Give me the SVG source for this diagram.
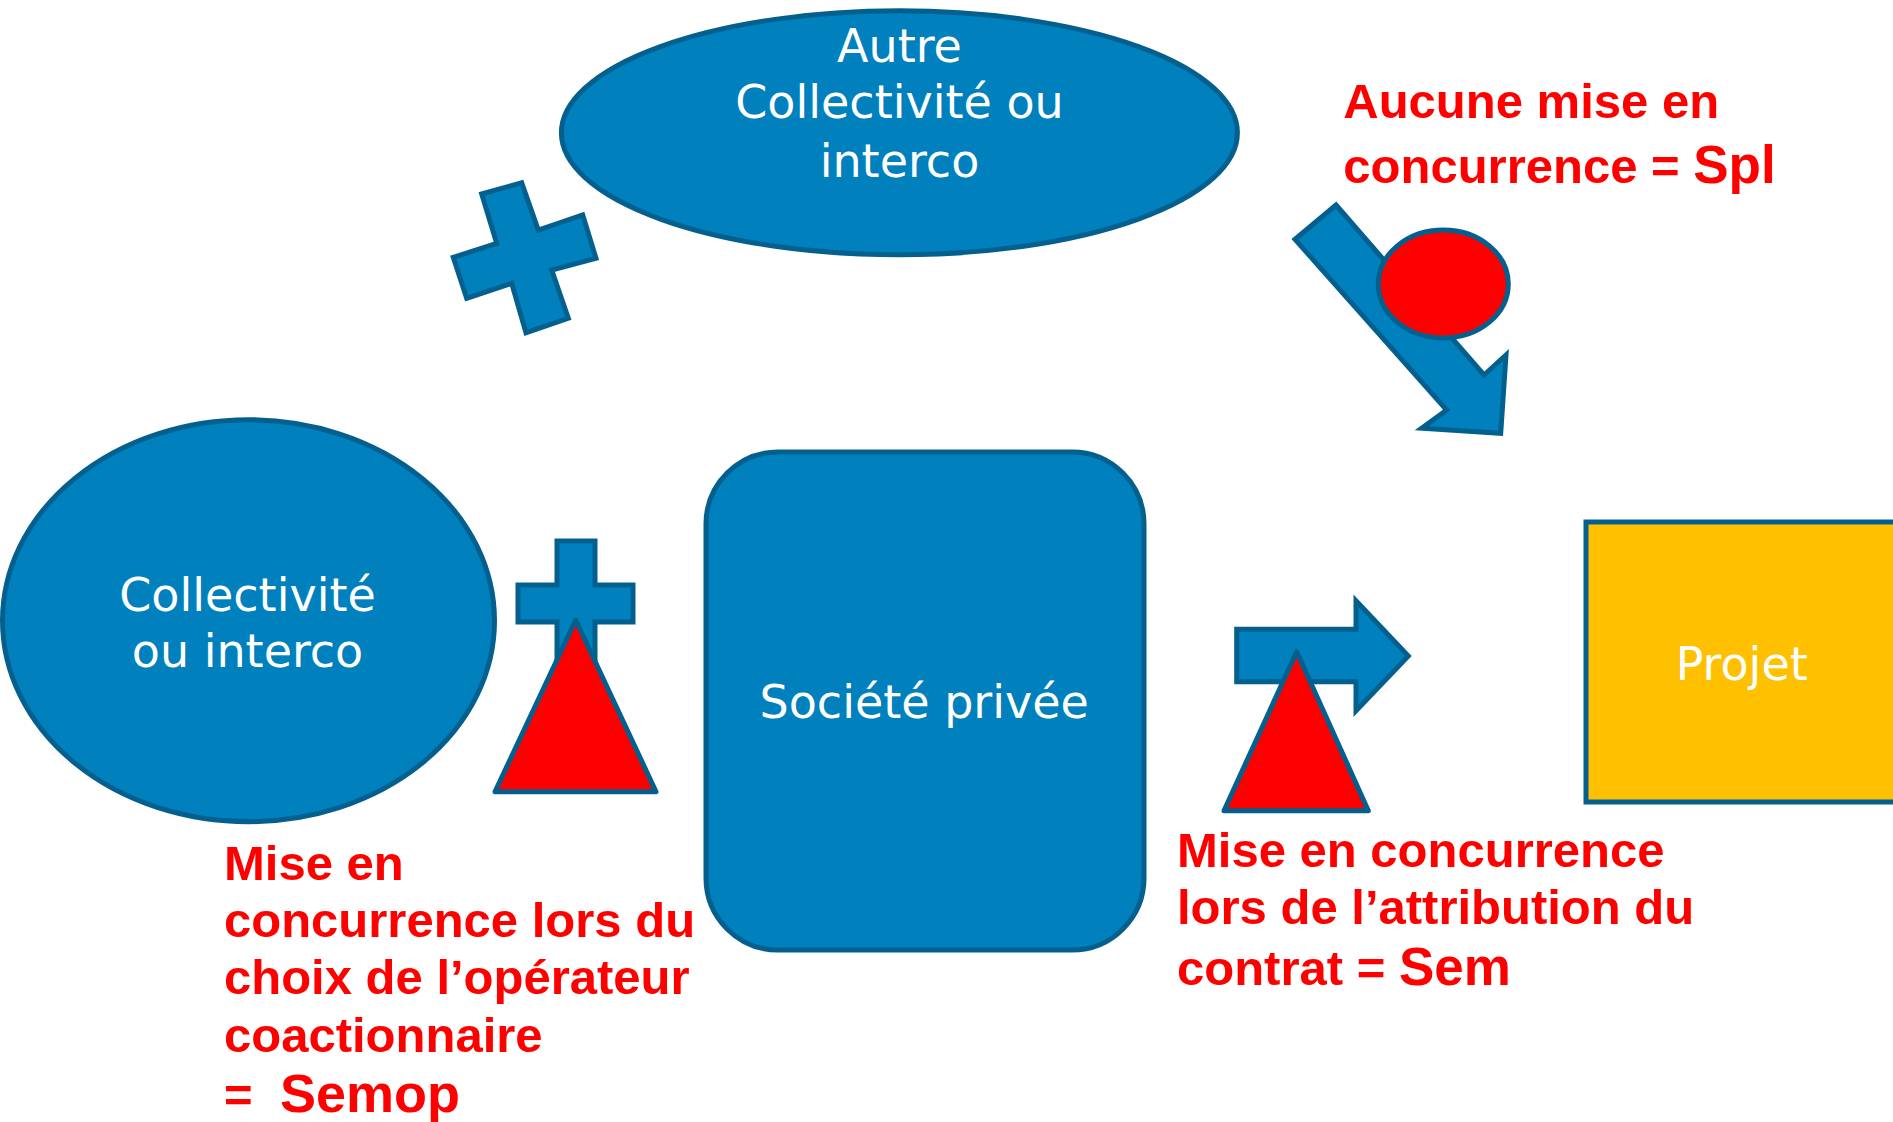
<svg xmlns="http://www.w3.org/2000/svg" width="1893" height="1122" viewBox="0 0 1893 1122">
<style>
.blue{fill:#0080BC;stroke:#03608E;stroke-width:5;stroke-linejoin:miter}
.red{fill:#FF0000;stroke:#03608E;stroke-width:5;stroke-linejoin:round}
.yellow{fill:#FFC000;stroke:#03608E;stroke-width:5}
.wt{font-family:"DejaVu Sans","Liberation Sans",sans-serif;font-size:46px;fill:#FFFFFF;text-anchor:middle}
.rt{font-family:"Liberation Sans",Arial,sans-serif;font-weight:bold;font-size:49px;fill:#FF0000}
</style>
<rect width="1893" height="1122" fill="#FFFFFF"/>

<g id="node-autre">
<ellipse class="blue" cx="899.4" cy="132.8" rx="338" ry="122"/>
<text class="wt" x="899.5" y="61.7">Autre</text>
<text class="wt" x="899.5" y="118.3">Collectivité ou</text>
<text class="wt" x="899.5" y="176.7">interco</text>
</g>

<g id="plus-top">
<path class="blue" d="M481.7,194 L521.7,182.7 L538.3,230 L582.7,215 L596,258.3 L551.7,270 L568.3,318.3 L526,332.7 L511.7,283.3 L466.7,298.3 L453.3,257.3 L496.7,243.3 Z"/>
</g>

<g id="node-collectivite">
<ellipse class="blue" cx="248.5" cy="620.7" rx="246" ry="201"/>
<text class="wt" x="247.5" y="610.7">Collectivité</text>
<text class="wt" x="247.5" y="666.7">ou interco</text>
</g>

<g id="node-societe">
<rect class="blue" x="706" y="452" width="438" height="498" rx="72" ry="72"/>
<text class="wt" x="924.2" y="718.3">Société privée</text>
</g>

<g id="node-projet">
<rect class="yellow" x="1586" y="522" width="315" height="280"/>
<text class="wt" x="1741.7" y="680">Projet</text>
</g>

<g id="connectors">
<path class="blue" d="M1336,205 L1484,375 L1506,355 L1500.7,433.3 L1421.7,428.3 L1446.7,410 L1295,239.3 Z"/>
<path class="blue" d="M1236.7,629.3 L1356,629.3 L1356,600.7 L1408.3,656 L1356,710.7 L1356,681.7 L1236.7,681.7 Z"/>
</g>

<g id="marker-spl">
<ellipse class="red" cx="1443.3" cy="284" rx="65" ry="54"/>
</g>

<g id="marker-semop">
<path class="blue" d="M557,541 L595,541 L595,585 L633,585 L633,622 L595,622 L595,666 L557,666 L557,622 L518,622 L518,585 L557,585 Z"/>
<path class="red" d="M575.7,620 L656,791.7 L495,791.7 Z"/>
</g>

<g id="marker-sem">
<path class="red" d="M1296.7,651.7 L1368.3,810.7 L1224,810.7 Z"/>
</g>

<g id="label-spl">
<text class="rt" x="1343.3" y="118">Aucune mise en</text>
<text class="rt" x="1343.3" y="182.7">concurrence = <tspan font-size="53px">Spl</tspan></text>
</g>

<g id="label-semop">
<text class="rt" x="224" y="880">Mise en</text>
<text class="rt" x="224" y="936.7">concurrence lors du</text>
<text class="rt" x="224" y="994">choix de l’opérateur</text>
<text class="rt" x="224" y="1051.7">coactionnaire</text>
<text class="rt" x="224" y="1112">=<tspan x="280" font-size="54px">Semop</tspan></text>
</g>

<g id="label-sem">
<text class="rt" x="1177" y="867">Mise en concurrence</text>
<text class="rt" x="1177" y="924">lors de l’attribution du</text>
<text class="rt" x="1177" y="985">contrat = <tspan font-size="53px">Sem</tspan></text>
</g>
</svg>
